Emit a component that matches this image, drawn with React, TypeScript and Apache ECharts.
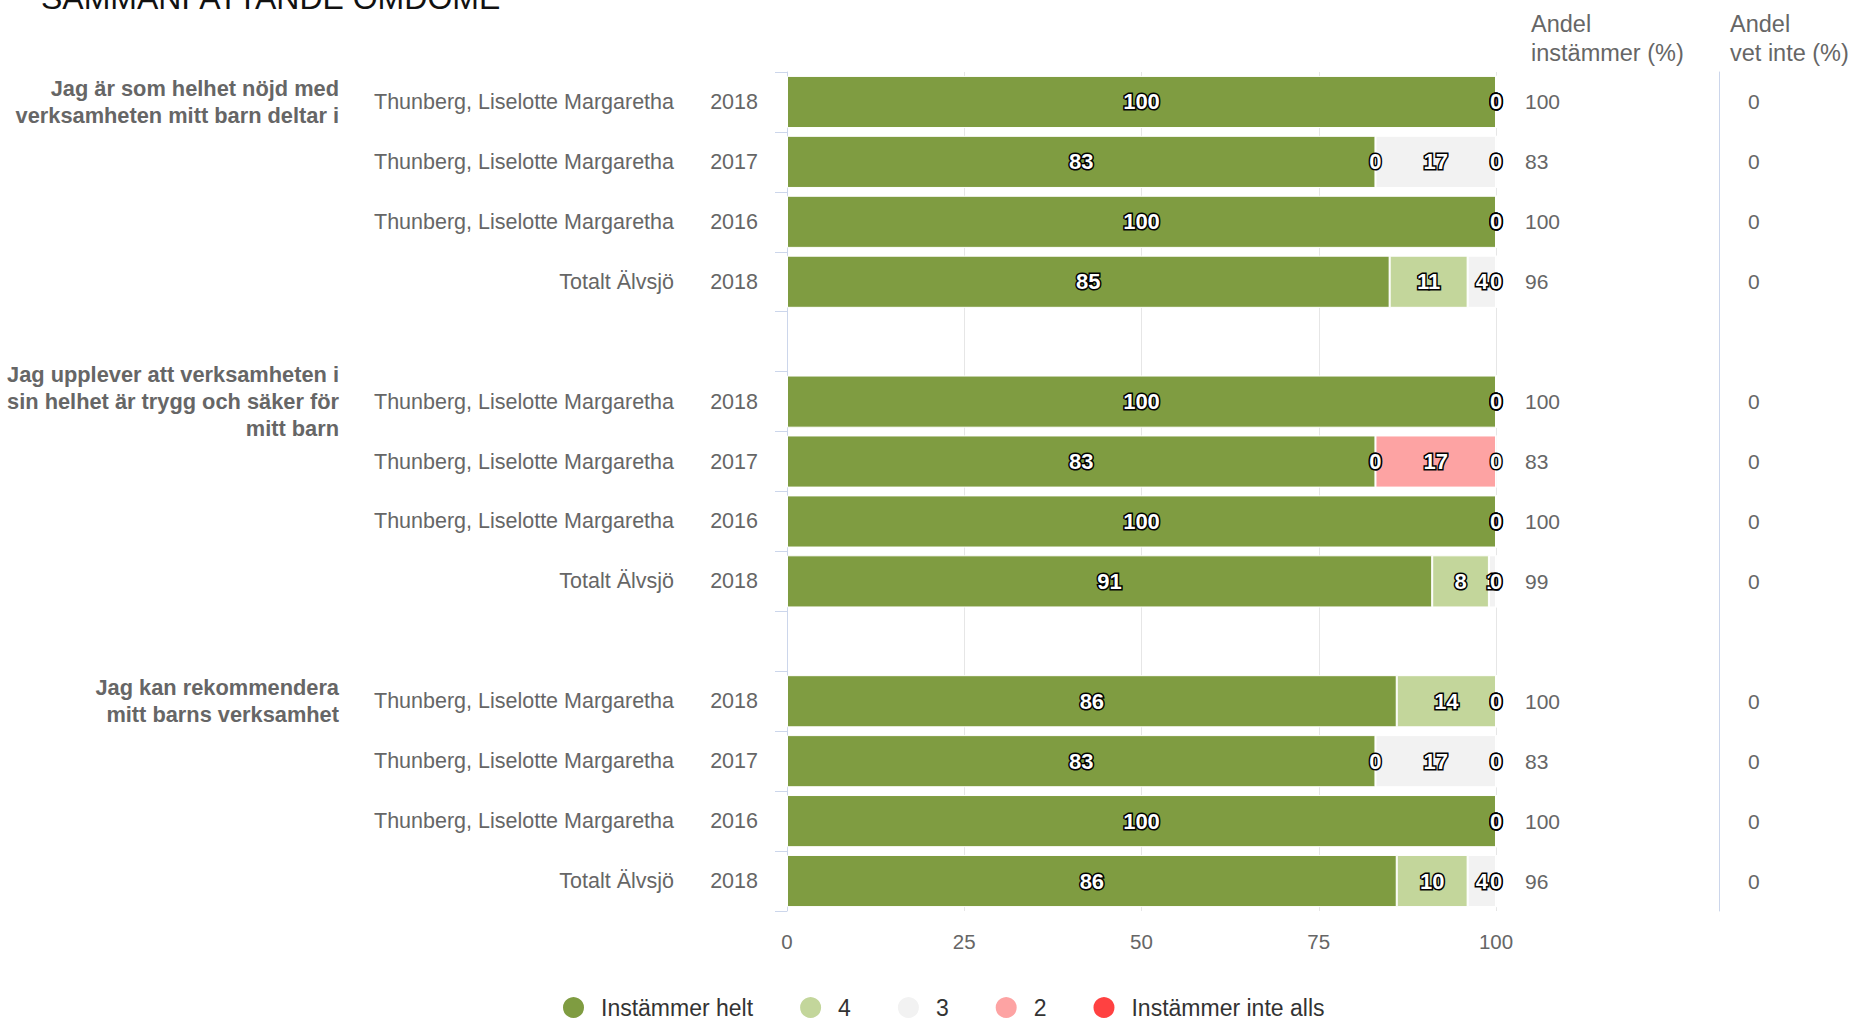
import React, { useEffect, useRef } from "react";
import * as echarts from "echarts";

const FONT = '"Liberation Sans", Arial, Helvetica, sans-serif';

const titleText = "SAMMANFATTANDE OMDÖME";

const seriesNames = ["Instämmer helt", "4", "3", "2", "Instämmer inte alls"];
const seriesColors = ["#7f9c41", "#c3d69b", "#f2f2f2", "#fda3a3", "#ff4141"];

const groupLabels = [
  "Jag är som helhet nöjd med\nverksamheten mitt barn deltar i",
  "",
  "",
  "",
  "",
  "Jag upplever att verksamheten i\nsin helhet är trygg och säker för\nmitt barn",
  "",
  "",
  "",
  "",
  "Jag kan rekommendera\nmitt barns verksamhet",
  "",
  "",
  "",
];

const rowNames = [
  "Thunberg, Liselotte Margaretha",
  "Thunberg, Liselotte Margaretha",
  "Thunberg, Liselotte Margaretha",
  "Totalt Älvsjö",
  "",
  "Thunberg, Liselotte Margaretha",
  "Thunberg, Liselotte Margaretha",
  "Thunberg, Liselotte Margaretha",
  "Totalt Älvsjö",
  "",
  "Thunberg, Liselotte Margaretha",
  "Thunberg, Liselotte Margaretha",
  "Thunberg, Liselotte Margaretha",
  "Totalt Älvsjö",
];

const rowYears = ["2018", "2017", "2016", "2018", "", "2018", "2017", "2016", "2018", "", "2018", "2017", "2016", "2018"];

const helt = [100, 83, 100, 85, "-", 100, 83, 100, 91, "-", 86, 83, 100, 86];
const fyra = [0, 0, 0, 11, "-", 0, 0, 0, 8, "-", 14, 0, 0, 10];
const tre = [0, 17, 0, 4, "-", 0, 0, 0, 1, "-", 0, 17, 0, 4];
const tva = [0, 0, 0, 0, "-", 0, 17, 0, 0, "-", 0, 0, 0, 0];
const inteAlls = [0, 0, 0, 0, "-", 0, 0, 0, 0, "-", 0, 0, 0, 0];

const andelInstammer = ["100", "83", "100", "96", "", "100", "83", "100", "99", "", "100", "83", "100", "96"];
const andelVetInte = ["0", "0", "0", "0", "", "0", "0", "0", "0", "", "0", "0", "0", "0"];

const xTicks = { min: 0, max: 100, interval: 25 };

export default function App() {
  const ref = useRef<HTMLDivElement>(null);

  useEffect(() => {
    document.body.style.margin = "0";
    document.body.style.overflow = "hidden";
    if (!ref.current) return;
    const chart = echarts.init(ref.current, undefined, { renderer: "svg" });

    const cats = rowNames.map((_, i) => String(i));
    const seriesData = [helt, fyra, tre, tva, inteAlls];

    const catAxisBase = {
      type: "category",
      inverse: true,
      data: cats,
      gridIndex: 0,
    };

    const option: any = {
      animation: false,
      textStyle: { fontFamily: FONT },
      grid: { left: 787, right: 358, top: 72, bottom: 110, containLabel: false },
      legend: {
        left: 561,
        top: 995,
        padding: 0,
        itemWidth: 23,
        itemHeight: 23,
        icon: "circle",
        itemGap: 45,
        data: seriesNames,
        textStyle: { fontSize: 23, color: "#333", fontFamily: FONT, padding: [0, 0, 0, 11] },
      },
      xAxis: {
        type: "value",
        min: xTicks.min,
        max: xTicks.max,
        interval: xTicks.interval,
        axisLine: { show: false },
        axisTick: { show: false },
        splitLine: { lineStyle: { color: "#e6e6e6", width: 1 } },
        axisLabel: { fontSize: 20.5, color: "#666", margin: 20, fontFamily: FONT },
      },
      yAxis: [
        {
          ...catAxisBase,
          position: "left",
          axisLine: { show: true, lineStyle: { color: "#ccd6eb" } },
          axisTick: { show: true, length: 12, lineStyle: { color: "#ccd6eb" } },
          splitLine: { show: false },
          axisLabel: {
            margin: 29,
            interval: 0,
            formatter: (_v: string, i: number) =>
              rowNames[i] ? `{n|${rowNames[i]}}{y|${rowYears[i]}}` : "",
            rich: {
              n: { fontSize: 21.5, color: "#666", fontFamily: FONT, align: "right" },
              y: { fontSize: 21.5, color: "#666", fontFamily: FONT, width: 84, align: "right" },
            },
          },
        },
        {
          ...catAxisBase,
          position: "left",
          axisLine: { show: false },
          axisTick: { show: false },
          splitLine: { show: false },
          axisLabel: {
            margin: 448,
            interval: 0,
            fontSize: 21.8,
            fontWeight: "bold",
            lineHeight: 27,
            color: "#666",
            fontFamily: FONT,
            align: "right",
            formatter: (_v: string, i: number) => groupLabels[i],
          },
        },
        {
          ...catAxisBase,
          position: "right",
          axisLine: { show: false },
          axisTick: { show: false },
          splitLine: { show: false },
          axisLabel: {
            margin: 29,
            interval: 0,
            fontSize: 21,
            color: "#666",
            fontFamily: FONT,
            formatter: (_v: string, i: number) => andelInstammer[i],
          },
        },
        {
          ...catAxisBase,
          position: "right",
          offset: 223,
          axisLine: { show: true, lineStyle: { color: "#ccd6eb" } },
          axisTick: { show: false },
          splitLine: { show: false },
          axisLabel: {
            margin: 29,
            interval: 0,
            fontSize: 21,
            color: "#666",
            fontFamily: FONT,
            formatter: (_v: string, i: number) => andelVetInte[i],
          },
        },
      ],
      series: seriesNames.map((name, si) => ({
        name,
        type: "bar",
        stack: "total",
        yAxisIndex: 0,
        barCategoryGap: "13%",
        data: seriesData[si],
        itemStyle: { color: seriesColors[si], borderColor: "#ffffff", borderWidth: 1 },
        label: {
          show: true,
          position: "inside",
          formatter: "{c}",
          fontSize: 22,
          fontWeight: "bold",
          color: "#ffffff",
          textBorderColor: "#000000",
          textBorderWidth: 3,
          fontFamily: FONT,
        },
      })),
      graphic: [
        {
          type: "text",
          x: 41,
          y: -2,
          style: { text: titleText, fontSize: 32, fill: "#111", fontFamily: FONT, verticalAlign: "middle" },
        },
        {
          type: "text",
          x: 1531,
          y: 24,
          style: { text: "Andel", fontSize: 23.5, fill: "#666", fontFamily: FONT, verticalAlign: "middle" },
        },
        {
          type: "text",
          x: 1531,
          y: 53,
          style: { text: "instämmer (%)", fontSize: 23.5, fill: "#666", fontFamily: FONT, verticalAlign: "middle" },
        },
        {
          type: "text",
          x: 1730,
          y: 24,
          style: { text: "Andel", fontSize: 23.5, fill: "#666", fontFamily: FONT, verticalAlign: "middle" },
        },
        {
          type: "text",
          x: 1730,
          y: 53,
          style: { text: "vet inte (%)", fontSize: 23.5, fill: "#666", fontFamily: FONT, verticalAlign: "middle" },
        },
      ],
    };

    chart.setOption(option);
    return () => chart.dispose();
  }, []);

  return <div ref={ref} style={{ width: 1854, height: 1021, position: "absolute", left: 0, top: 0 }} />;
}
